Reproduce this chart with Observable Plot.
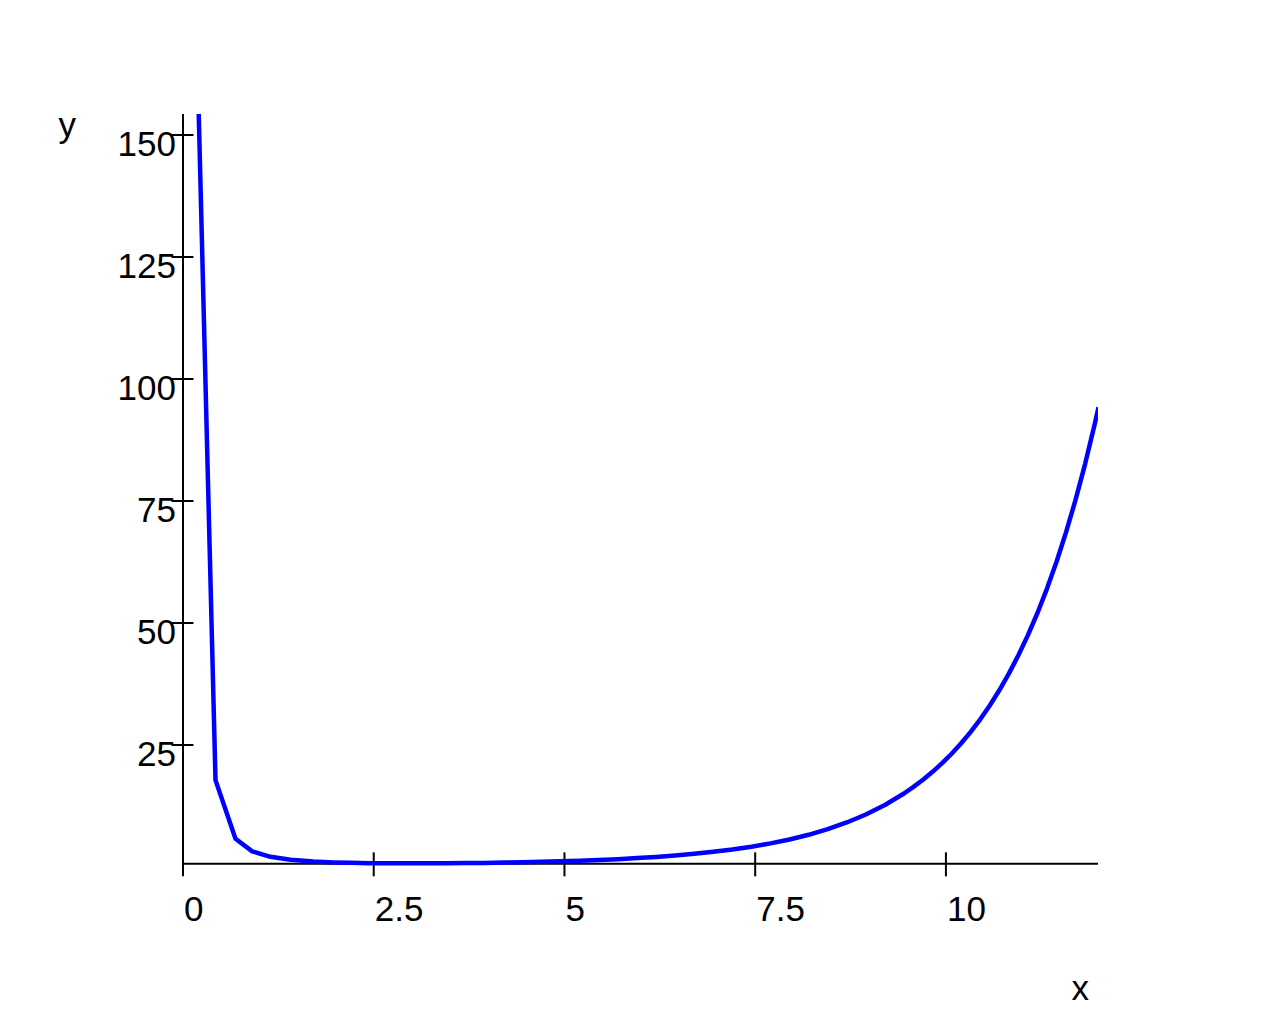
<!DOCTYPE html>
<html>
<head>
<meta charset="utf-8">
<script src="https://cdn.jsdelivr.net/npm/d3@7"></script>
<script src="https://cdn.jsdelivr.net/npm/@observablehq/plot@0.6"></script>
<style>
  html, body { margin: 0; padding: 0; background: #ffffff; }
  #chart svg { display: block; }
</style>
</head>
<body>
<div id="chart"></div>
<script>
const xValues = [0.197, 0.426, 0.688, 0.907, 1.147, 1.41, 1.71, 1.97,
  2.2, 2.45, 2.7, 2.95, 3.2, 3.45, 3.7, 3.95, 4.2, 4.45, 4.7, 4.95,
  5.2, 5.45, 5.7, 5.95, 6.2, 6.45, 6.7, 6.95, 7.2, 7.45, 7.7, 7.95,
  8.2, 8.45, 8.7, 8.95, 9.2, 9.45, 9.575, 9.7, 9.825, 9.95, 10.075, 10.2, 10.325,
  10.45, 10.575, 10.7, 10.825, 10.95, 11.075, 11.2, 11.325, 11.45, 11.575,
  11.7, 11.825, 11.95, 12];
const yValues = [160, 17.8, 5.8, 3.2, 2.08, 1.47, 1.12, 0.94,
  0.85, 0.79, 0.756, 0.744, 0.749, 0.767, 0.8, 0.843, 0.9, 0.972, 1.06, 1.164,
  1.29, 1.44, 1.61, 1.82, 2.07, 2.36, 2.7, 3.11, 3.59, 4.16, 4.84, 5.64,
  6.6, 7.75, 9.12, 10.75, 12.71, 15.06, 16.41, 17.88, 19.5, 21.27, 23.21, 25.35, 27.7,
  30.27, 33.1, 36.21, 39.62, 43.38, 47.51, 52.05, 57.05, 62.56, 68.61,
  75.27, 82.62, 90.72, 94.2];

const xTicks = [0, 2.5, 5, 7.5, 10];
const yTicks = [25, 50, 75, 100, 125, 150];
const xDomain = [0, 12];
const yDomain = [0, 154.2];
const axisY0 = 0.65;   // where the horizontal axis sits (bottom of the view)
const xTitle = "x";
const yTitle = "y";

const curve = xValues.map((x, i) => ({x, y: yValues[i]}));

const FONT = "Arial, 'Liberation Sans', sans-serif";
const FS = 35;

const chart = Plot.plot({
  width: 1280,
  height: 1024,
  marginLeft: 182.5,
  marginRight: 182,
  marginTop: 114,
  marginBottom: 157.5,
  style: {background: "#ffffff", fontFamily: FONT, color: "#000000"},
  x: {domain: xDomain, axis: null},
  y: {domain: yDomain, axis: null},
  marks: [
    // axis lines
    Plot.ruleX([0], {x: d => d, y1: axisY0, y2: yDomain[1], stroke: "#000", strokeWidth: 2}),
    Plot.ruleY([axisY0], {y: d => d, x1: xDomain[0], x2: xDomain[1], stroke: "#000", strokeWidth: 2}),
    // ticks crossing the axes
    Plot.ruleX(xTicks, {x: d => d, y1: axisY0, y2: axisY0, insetTop: -11, insetBottom: -13, stroke: "#000", strokeWidth: 2}),
    Plot.ruleY(yTicks, {y: d => d, x1: 0, x2: 0, insetLeft: -11, insetRight: -11, stroke: "#000", strokeWidth: 2}),
    // tick labels
    Plot.text(xTicks, {x: d => d, frameAnchor: "bottom", text: d => String(d), textAnchor: "start", lineAnchor: "top", dx: 1, dy: 28.8, fontSize: FS, fill: "#000"}),
    Plot.text(yTicks, {y: d => d, frameAnchor: "left", text: d => String(d), textAnchor: "end", lineAnchor: "middle", dx: -7, dy: 9.5, fontSize: FS, fill: "#000"}),
    // axis titles
    Plot.text([xTitle], {frameAnchor: "bottom-right", text: d => d, textAnchor: "end", lineAnchor: "middle", dx: -9.5, dy: 122, fontSize: FS, fill: "#000"}),
    Plot.text([yTitle], {frameAnchor: "top-left", text: d => d, textAnchor: "start", lineAnchor: "middle", dx: -124.5, dy: 11, fontSize: FS, fill: "#000"}),
    // the curve
    Plot.line(curve, {x: "x", y: "y", stroke: "#0000ff", strokeWidth: 4.5, strokeLinejoin: "round", strokeLinecap: "butt", clip: true})
  ]
});
document.getElementById("chart").appendChild(chart);
</script>
</body>
</html>
